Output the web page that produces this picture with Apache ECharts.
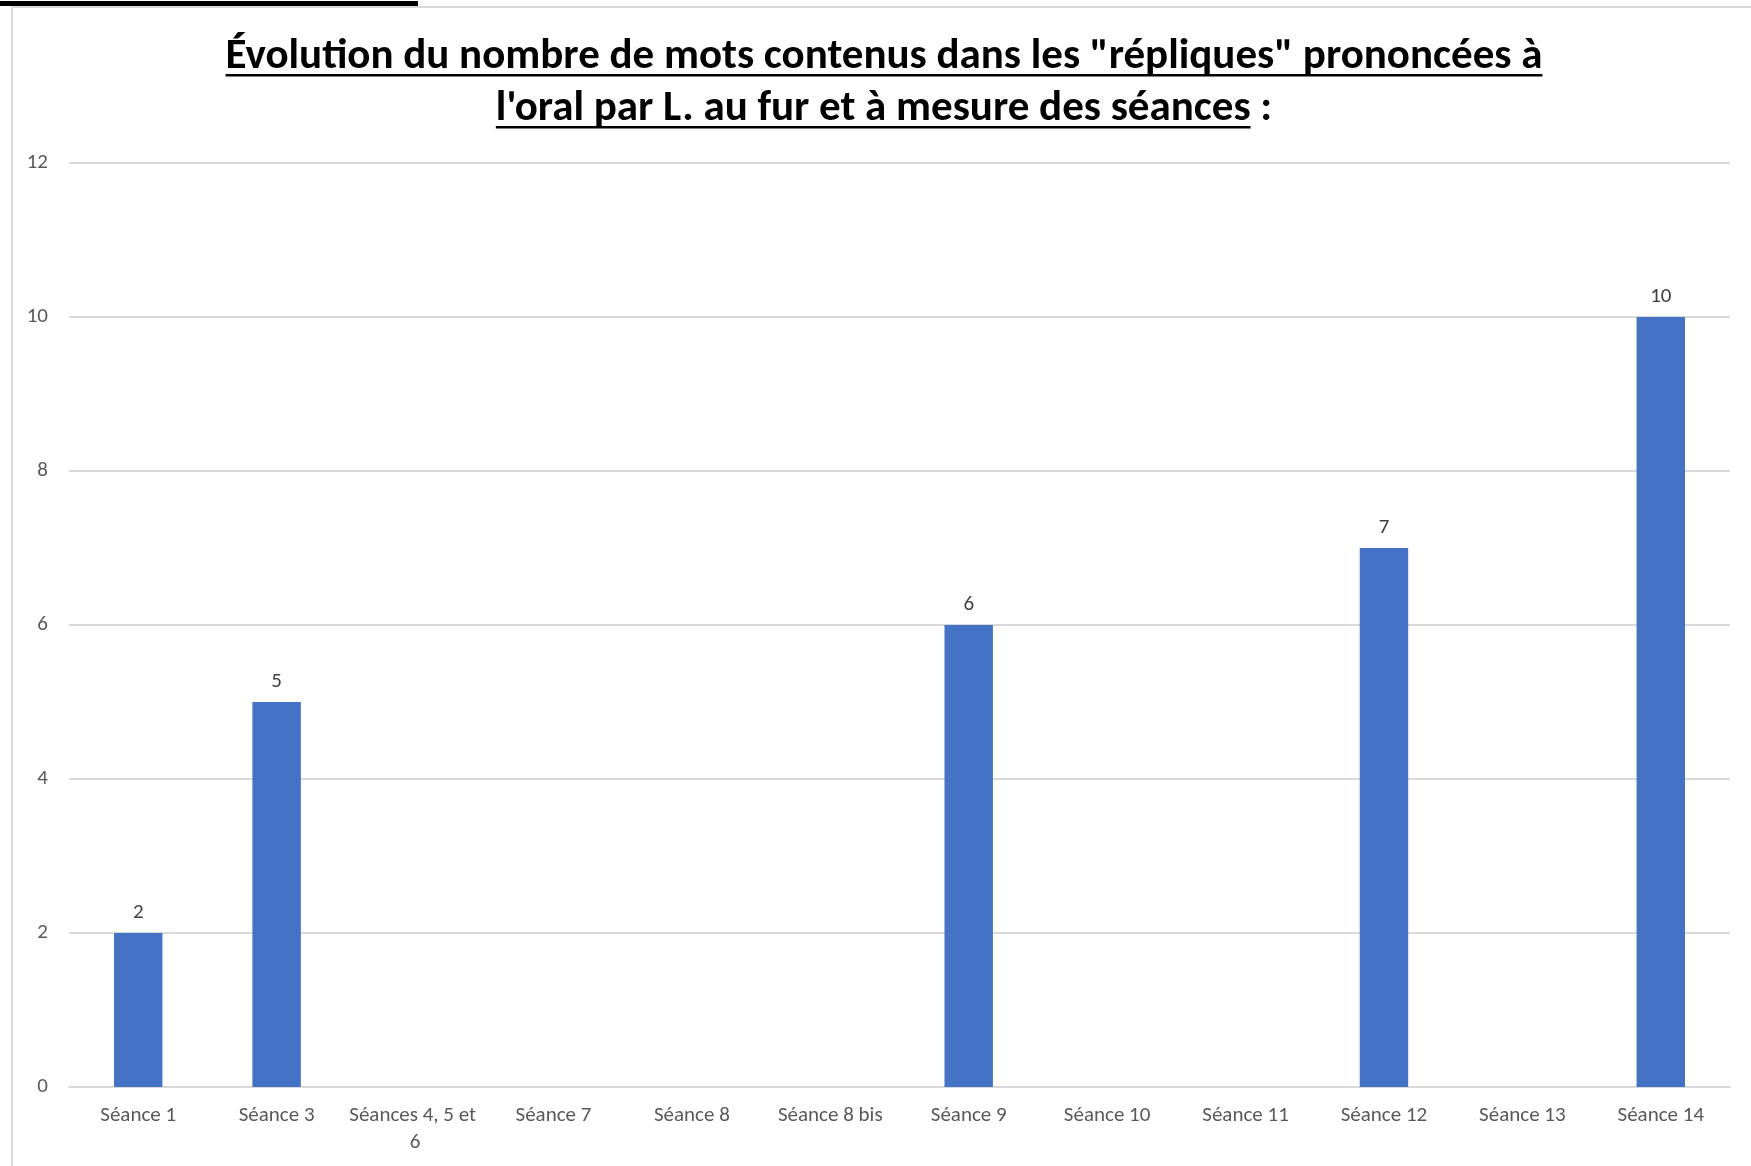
<!DOCTYPE html>
<html>
<head>
<meta charset="utf-8">
<script src="https://cdn.jsdelivr.net/npm/echarts@6/dist/echarts.min.js"></script>
<style>
  html, body { margin: 0; padding: 0; background: #fff; }
  #chart { width: 1751px; height: 1166px; }
</style>
</head>
<body>
<div id="chart"></div>
<script>
// Sessions on the horizontal axis
const seances = ["Séance 1", "Séance 3", "Séances 4, 5 et 6", "Séance 7", "Séance 8", "Séance 8 bis",
                 "Séance 9", "Séance 10", "Séance 11", "Séance 12", "Séance 13", "Séance 14"];
// Number of words per spoken reply (blank sessions have no value)
const nbMots = [2, 5, null, null, null, null, 6, null, null, 7, null, 10];
// Value axis ticks
const yTicks = [0, 2, 4, 6, 8, 10, 12];

const titleLine1 = 'Évolution du nombre de mots contenus dans les "répliques" prononcées à';
const titleLine2a = "l'oral par L. au fur et à mesure des séances";
const titleLine2b = " :";

const FONT = "Carlito, 'Liberation Sans Narrow', 'Open Sans', sans-serif";
const TITLE_SIZE = 43;
const TITLE_X = 884;
const LABEL_SIZE = 21;

// measure title text to place the underlines
function textWidth(txt) {
  const c = document.createElement('canvas').getContext('2d');
  c.font = 'bold ' + TITLE_SIZE + 'px ' + FONT;
  return c.measureText(txt).width;
}
const w1 = textWidth(titleLine1);
const w2 = textWidth(titleLine2a + titleLine2b);
const w2a = textWidth(titleLine2a);

const chart = echarts.init(document.getElementById('chart'), null, { renderer: 'canvas' });

chart.setOption({
  backgroundColor: '#ffffff',
  animation: false,
  title: {
    text: titleLine1 + '\n' + titleLine2a + titleLine2b,
    left: TITLE_X,
    top: 31,
    textAlign: 'center',
    padding: 0,
    textStyle: {
      fontFamily: FONT,
      fontWeight: 'bold',
      fontSize: TITLE_SIZE,
      lineHeight: 52,
      color: '#000000'
    }
  },
  graphic: [
    // outer frame edges
    { type: 'rect', shape: { x: 0, y: 1, width: 418, height: 5 }, style: { fill: '#000000' } },
    { type: 'rect', shape: { x: 12, y: 6, width: 1739, height: 2 }, style: { fill: '#d9d9d9' } },
    { type: 'rect', shape: { x: 11, y: 6, width: 2, height: 1160 }, style: { fill: '#d9d9d9' } },
    // title underlines
    { type: 'rect', shape: { x: TITLE_X - w1 / 2, y: 74, width: w1, height: 2.5 }, style: { fill: '#000000' } },
    { type: 'rect', shape: { x: TITLE_X - w2 / 2, y: 126, width: w2a, height: 2.5 }, style: { fill: '#000000' } }
  ],
  grid: { left: 69, right: 21, top: 163, bottom: 79, containLabel: false },
  xAxis: {
    type: 'category',
    data: seances,
    axisLine: { show: true, lineStyle: { color: '#d9d9d9', width: 2 } },
    axisTick: { show: false },
    axisLabel: {
      interval: 0,
      margin: 15,
      color: '#595959',
      fontFamily: FONT,
      fontSize: LABEL_SIZE,
      lineHeight: 27,
      width: 150,
      overflow: 'break'
    }
  },
  yAxis: {
    type: 'value',
    min: yTicks[0],
    max: yTicks[yTicks.length - 1],
    interval: yTicks[1] - yTicks[0],
    axisLine: { show: false },
    axisTick: { show: false },
    splitLine: { lineStyle: { color: '#d9d9d9', width: 2 } },
    axisLabel: {
      margin: 21,
      color: '#595959',
      fontFamily: FONT,
      fontSize: LABEL_SIZE
    }
  },
  series: [{
    type: 'bar',
    data: nbMots,
    barWidth: '35%',
    itemStyle: { color: '#4472c4' },
    label: {
      show: true,
      position: 'top',
      distance: 10,
      color: '#404040',
      fontFamily: FONT,
      fontSize: LABEL_SIZE
    }
  }]
});
</script>
</body>
</html>
